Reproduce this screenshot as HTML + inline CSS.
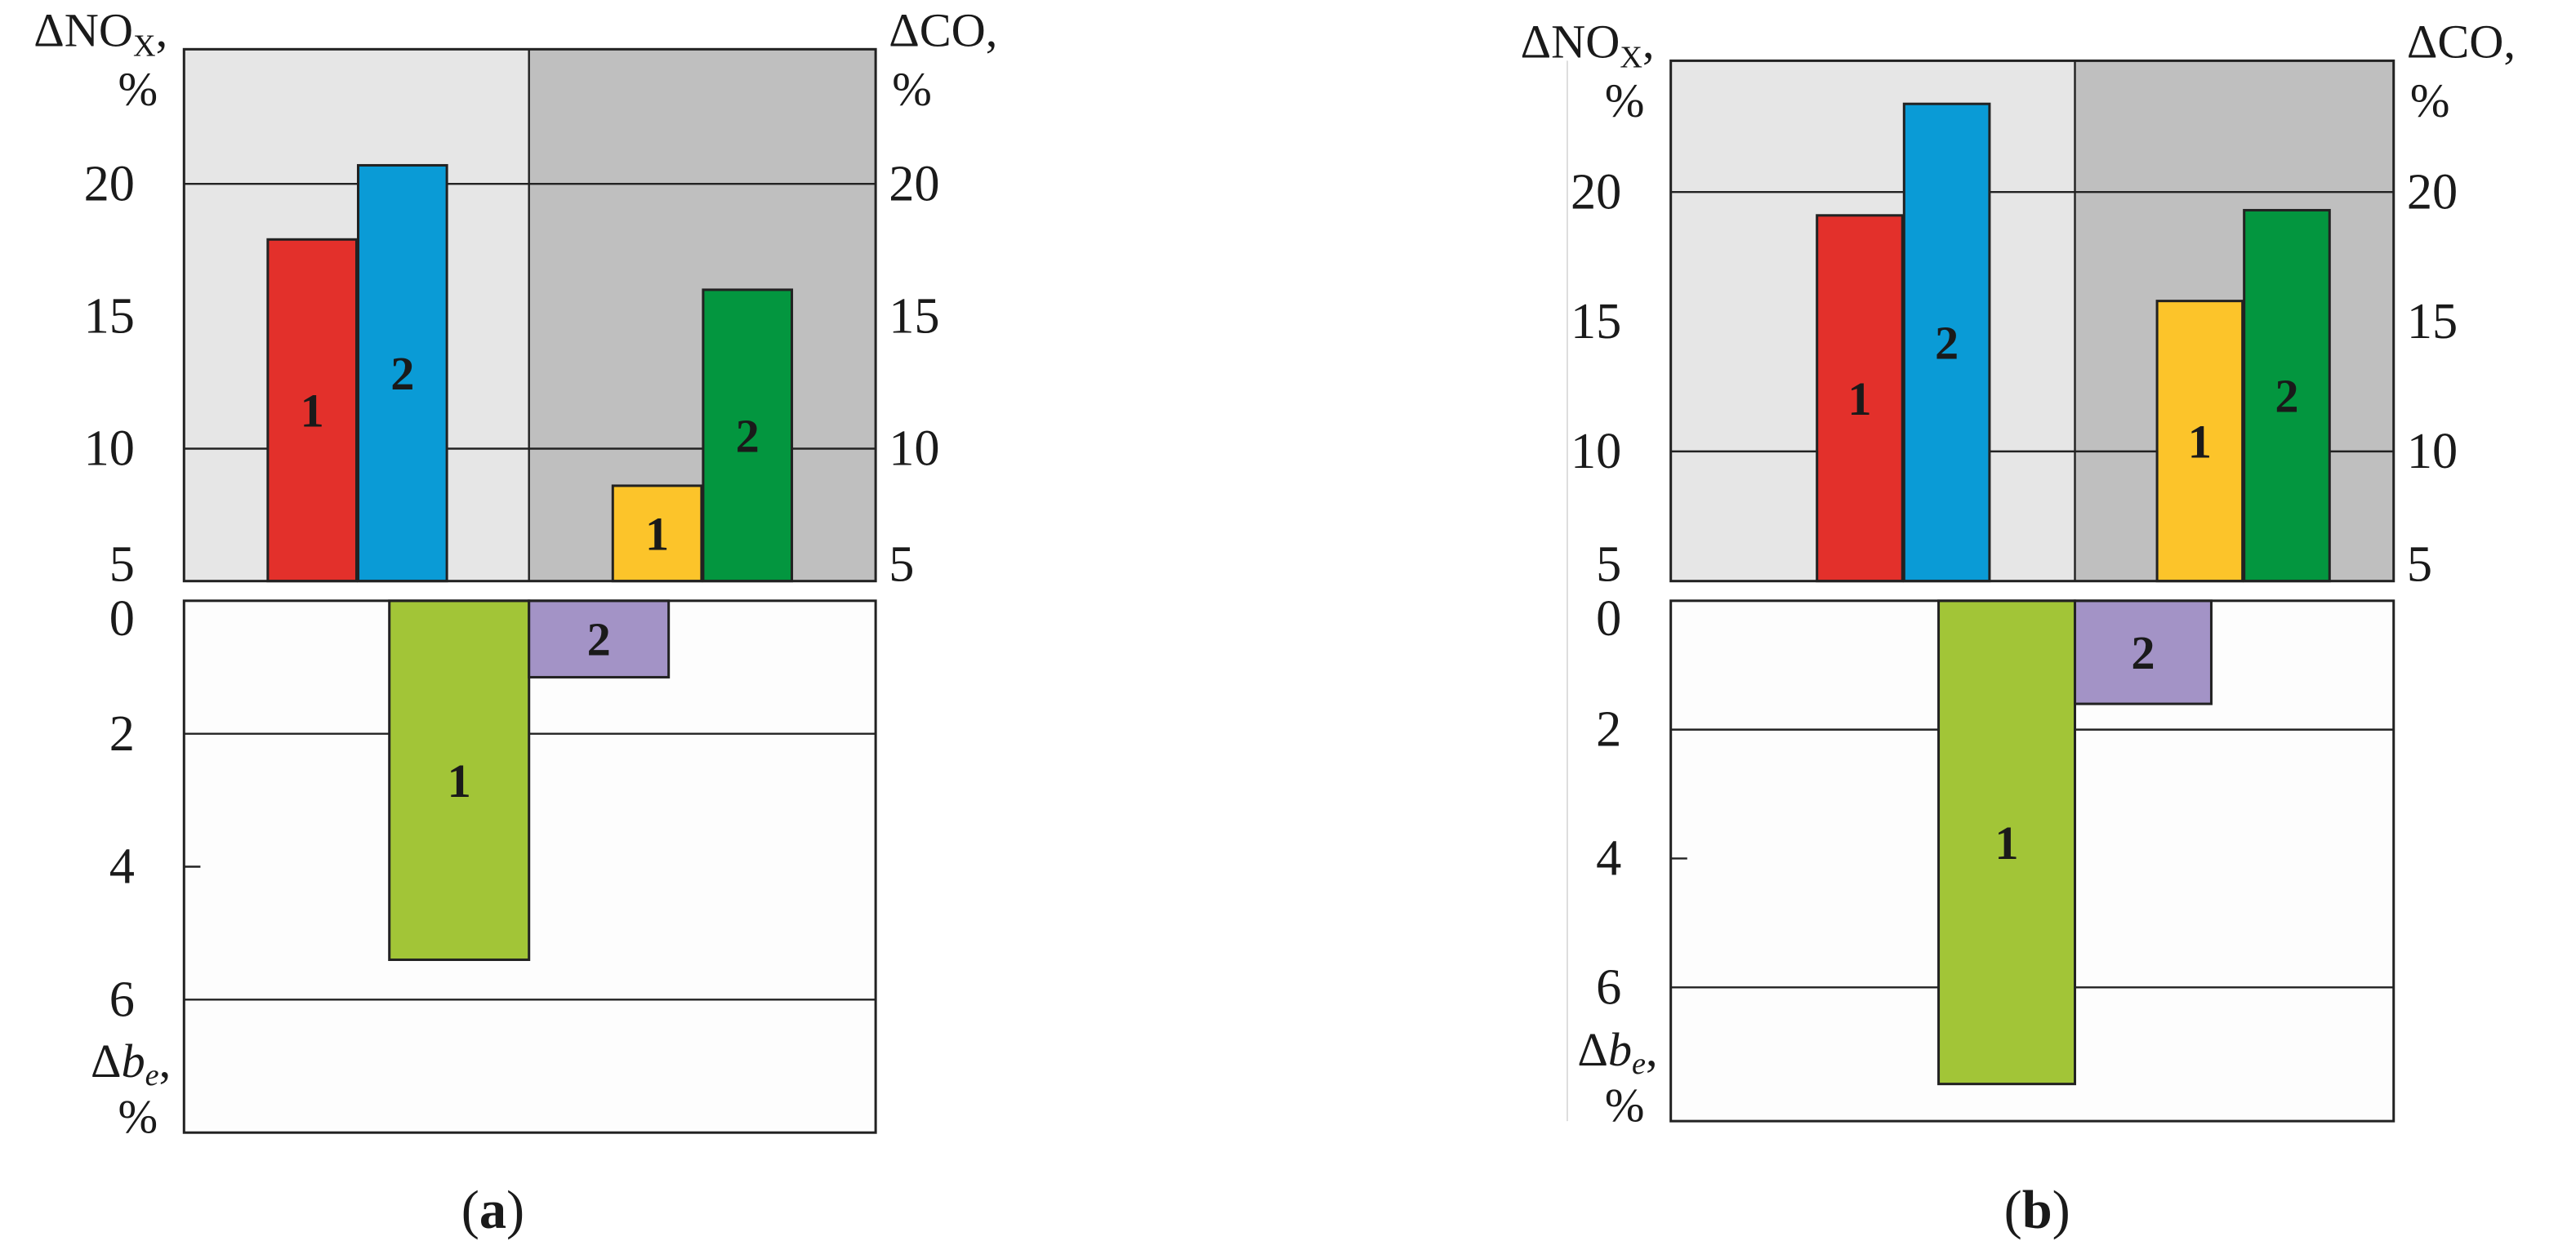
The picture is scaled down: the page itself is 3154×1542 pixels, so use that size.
<!DOCTYPE html>
<html><head><meta charset="utf-8"><style>
html,body{margin:0;padding:0;background:#fff;}
svg{display:block;}
text{font-family:"Liberation Serif",serif;fill:#1a1a1a;}
</style></head><body>
<svg id="chart" width="3154" height="1542" viewBox="0 0 1568 767" preserveAspectRatio="none" xmlns="http://www.w3.org/2000/svg"></svg>
<script>
const panelLabels = ["(a)", "(b)"];
const nox1 = [17.9, 19.1];
const nox2 = [20.7, 23.4];
const co1 = [8.6, 15.8];
const co2 = [16.0, 19.3];
const be1 = [5.4, 7.5];
const be2 = [1.15, 1.6];
const topTicks = [5, 10, 15, 20];
const topGrid = [10, 20];
const botTicks = [0, 2, 4, 6];
const botGrid = [2, 6];

const svg = document.getElementById('chart');
const NS = "http://www.w3.org/2000/svg";
function mk(tag, attrs, parent) {
  const e = document.createElementNS(NS, tag);
  for (const k in attrs) e.setAttribute(k, attrs[k]);
  (parent || svg).appendChild(e);
  return e;
}
const L = [
  {left:112, right:533, mid:322, top:30, y5:354, y20:112, btop:366, b2:447, b6:609, bbot:690, bw:54, n1:163, c1:373, g1:237, lab:[300]},
  {left:1017, right:1457, mid:1263, top:37, y5:354, y20:117, btop:366, b2:447, b6:604, bbot:683, bw:52, n1:1106, c1:1313, g1:1180, lab:[1240]}
];
L.forEach((p, i) => {
  const g = mk('g', {});
  
  
  const yTop = v => p.y5 - (v - 5) * (p.y5 - p.y20) / 15;
  const yBot = v => p.btop + v * (p.b6 - p.b2) / 4;
  let r = mk('rect', {x:p.left, y:p.top, width:p.mid-p.left, height:p.y5-p.top, fill:'#e6e6e6'}, g);
   
  r = mk('rect', {x:p.mid, y:p.top, width:p.right-p.mid, height:p.y5-p.top, fill:'#bfbfbf'}, g);
   
  r = mk('rect', {x:p.left, y:p.btop, width:p.right-p.left, height:p.bbot-p.btop, fill:'#fdfdfd'}, g);
   
  topGrid.forEach(v => { const l = mk('line', {x1:p.left, x2:p.right, y1:yTop(v), y2:yTop(v), stroke:'#222', 'stroke-width':1.2}, g);
      });
  botGrid.forEach(v => { const l = mk('line', {x1:p.left, x2:p.right, y1:yBot(v), y2:yBot(v), stroke:'#222', 'stroke-width':1.2}, g);
      });
  mk('line', {x1:p.left, x2:p.left+10, y1:yBot(4), y2:yBot(4), stroke:'#222', 'stroke-width':1.2}, g);
  mk('line', {x1:p.mid, x2:p.mid, y1:p.top, y2:p.y5, stroke:'#222', 'stroke-width':1.2}, g);
  const bars = [
    [p.n1, nox1[i], '#e3302b', '1', 'bar-nox-1'],
    [p.n1 + p.bw + 1, nox2[i], '#0a9bd6', '2', 'bar-nox-2'],
    [p.c1, co1[i], '#fcc42a', '1', 'bar-co-1'],
    [p.c1 + p.bw + 1, co2[i], '#03963f', '2', 'bar-co-2']
  ];
  bars.forEach(b => {
    const y = yTop(b[1]);
    const br = mk('rect', {x:b[0], y:y, width:p.bw, height:p.y5-y, fill:b[2], stroke:'#222', 'stroke-width':1.5}, g);
     
    const t = mk('text', {x:b[0]+p.bw/2, y:(y+p.y5)/2+10, 'text-anchor':'middle', 'font-size':29, 'font-weight':'bold'}, g);
    t.textContent = b[3];
     
  });
  const bw2 = p.mid - p.g1;
  const lb = [[p.g1, be1[i], '#a2c537', '1', 'bar-be-1'], [p.mid, be2[i], '#a393c6', '2', 'bar-be-2']];
  lb.forEach(b => {
    const y = yBot(b[1]);
    const br = mk('rect', {x:b[0], y:p.btop, width:bw2, height:y-p.btop, fill:b[2], stroke:'#222', 'stroke-width':1.5}, g);
     
    const t = mk('text', {x:b[0]+bw2/2, y:(y+p.btop)/2+10, 'text-anchor':'middle', 'font-size':29, 'font-weight':'bold'}, g);
    t.textContent = b[3];
     
  });
  mk('rect', {x:p.left, y:p.top, width:p.right-p.left, height:p.y5-p.top, fill:'none', stroke:'#222', 'stroke-width':1.5}, g);
  mk('rect', {x:p.left, y:p.btop, width:p.right-p.left, height:p.bbot-p.btop, fill:'none', stroke:'#222', 'stroke-width':1.5}, g);
  topTicks.forEach(v => {
    const dy = v === 5 ? 0 : 10;
    let t = mk('text', {x:p.left-30, y:yTop(v)+dy, 'text-anchor':'end', 'font-size':31}, g);
    t.textContent = v;  
    t = mk('text', {x:p.right+8, y:yTop(v)+dy, 'text-anchor':'start', 'font-size':31}, g);
    t.textContent = v;  
  });
  botTicks.forEach(v => {
    const t = mk('text', {x:p.left-30, y:yBot(v)+(v===0?21:10), 'text-anchor':'end', 'font-size':31}, g);
    t.textContent = v;  
  });
  let t = mk('text', {x:p.left-10, y:p.top-2, 'text-anchor':'end', 'font-size':29}, g);
  t.innerHTML = 'ΔNO<tspan font-size="19" dy="6">X</tspan><tspan dy="-6">,</tspan>';
   
  t = mk('text', {x:p.left-16, y:p.top+34, 'text-anchor':'end', 'font-size':29}, g);
  t.textContent = '%';  
  t = mk('text', {x:p.right+8, y:p.top-2, 'text-anchor':'start', 'font-size':29}, g);
  t.textContent = 'ΔCO,';  
  t = mk('text', {x:p.right+10, y:p.top+34, 'text-anchor':'start', 'font-size':29}, g);
  t.textContent = '%';  
  t = mk('text', {x:p.left-8, y:p.bbot-34, 'text-anchor':'end', 'font-size':29}, g);
  t.innerHTML = 'Δ<tspan font-style="italic">b</tspan><tspan font-style="italic" font-size="19" dy="5">e</tspan><tspan dy="-5">,</tspan>';
   
  t = mk('text', {x:p.left-16, y:p.bbot, 'text-anchor':'end', 'font-size':29}, g);
  t.textContent = '%';  
  t = mk('text', {x:p.lab[0], y:748, 'text-anchor':'middle', 'font-size':33}, g);
  t.innerHTML = '(<tspan font-weight="bold">' + panelLabels[i].slice(1,2) + '</tspan>)';
   
});
const edge = mk('line', {x1:954, x2:954, y1:37, y2:683, stroke:'#ddd', 'stroke-width':1});
 
</script>
</body></html>
